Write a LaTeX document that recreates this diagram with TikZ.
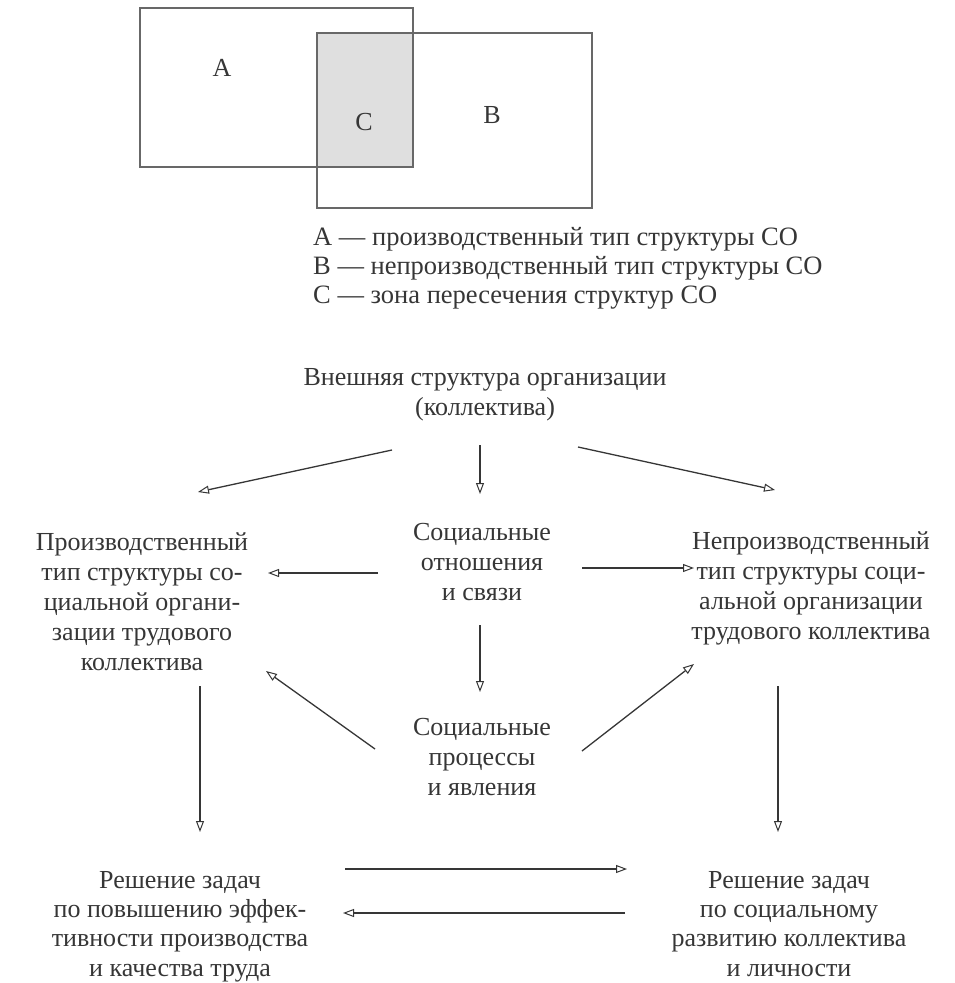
\documentclass[tikz,border=0pt]{standalone}
\usepackage{fontspec}
\setmainfont{Liberation Serif}
\usetikzlibrary{arrows.meta}
\definecolor{ink}{HTML}{363636}
\tikzset{
  lbl/.style={align=center, text=ink, font=\fontsize{26}{30}\selectfont, inner sep=0pt},
  lowlbl/.style={lbl, font=\fontsize{26}{29.3}\selectfont, anchor=north},
  leg/.style={align=left, text=ink, font=\fontsize{26.5}{29}\selectfont, inner sep=0pt, anchor=west},
  box/.style={draw=ink!75, line width=1.7pt},
  arr/.style={draw=ink, line width=1.3pt, -{Triangle[open, length=11pt, width=8pt, line width=1pt]}},
}
\begin{document}
\begin{tikzpicture}[x=1pt, y=-1pt]
\useasboundingbox (0,0) rectangle (954,983);

% overlapping structure rectangles
\fill[gray!25] (317,33) rectangle (413,167);
\draw[box] (140,8) rectangle (413,167);
\draw[box] (317,33) rectangle (592,208);
\node[lbl] (la) at (222,68) {А};
\node[lbl] (lc) at (364,122) {С};
\node[lbl] (lb) at (492,115) {В};

% legend
\node[leg] (legend) at (313,268) {А — производственный тип структуры СО\\
В — непроизводственный тип структуры СО\\
С — зона пересечения структур СО};

% text blocks
\node[lbl] (ext) at (485,395) {Внешняя структура организации\\(коллектива)};
\node[lbl] (prod) at (142,602) {Производственный\\тип структуры со-\\циальной органи-\\зации трудового\\коллектива};
\node[lbl] (rel) at (482,562) {Социальные\\отношения\\и связи};
\node[lbl] (nprod) at (811,588) {Непроизводственный\\тип структуры соци-\\альной организации\\трудового коллектива};
\node[lbl] (proc) at (482,757) {Социальные\\процессы\\и явления};
\node[lowlbl] (effic) at (180,871) {Решение задач\\по повышению эффек-\\тивности производства\\и качества труда};
\node[lowlbl] (devel) at (789,871) {Решение задач\\по социальному\\развитию коллектива\\и личности};

% connector end points
\coordinate (e1) at (392,450); \coordinate (p1) at (198,492);
\coordinate (e2) at (480,445); \coordinate (r1) at (480,494);
\coordinate (e3) at (578,447); \coordinate (n1) at (775,490);
\coordinate (r2) at (378,573); \coordinate (p2) at (268,573);
\coordinate (r3) at (582,568); \coordinate (n2) at (694,568);
\coordinate (r4) at (480,625); \coordinate (c1) at (480,692);
\coordinate (c2) at (375,749); \coordinate (p3) at (266,671);
\coordinate (c3) at (582,751); \coordinate (n3) at (694,664);
\coordinate (p4) at (200,686); \coordinate (f1) at (200,832);
\coordinate (n4) at (778,686); \coordinate (d1) at (778,832);
\coordinate (f2) at (345,869); \coordinate (d2) at (627,869);
\coordinate (d3) at (625,913); \coordinate (f3) at (343,913);

% connectors
\draw[arr] (e1) -- (p1);
\draw[arr] (e2) -- (r1);
\draw[arr] (e3) -- (n1);
\draw[arr] (r2) -- (p2);
\draw[arr] (r3) -- (n2);
\draw[arr] (r4) -- (c1);
\draw[arr] (c2) -- (p3);
\draw[arr] (c3) -- (n3);
\draw[arr] (p4) -- (f1);
\draw[arr] (n4) -- (d1);
\draw[arr] (f2) -- (d2);
\draw[arr] (d3) -- (f3);
\end{tikzpicture}
\end{document}
